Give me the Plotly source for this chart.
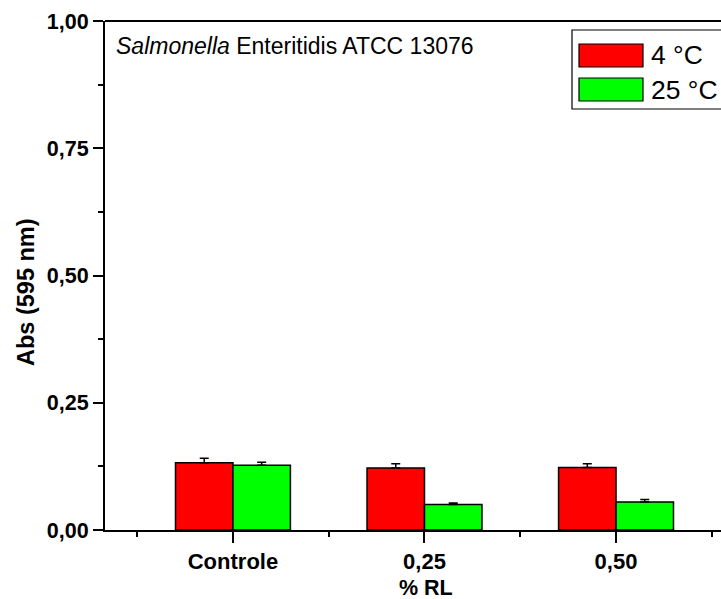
import plotly.graph_objects as go

categories = ["Controle", "0,25", "0,50"]
series_names = ["4 °C", "25 °C"]
vals_4c = [0.132, 0.122, 0.123]
err_4c = [0.009, 0.008, 0.007]
vals_25c = [0.127, 0.050, 0.055]
err_25c = [0.006, 0.003, 0.005]
colors = ["#ff0000", "#00ff00"]
yticks = [0.0, 0.25, 0.5, 0.75, 1.0]

xpos = list(range(len(categories)))
fig = go.Figure()
for name, vals, errs, col in [(series_names[0], vals_4c, err_4c, colors[0]),
                              (series_names[1], vals_25c, err_25c, colors[1])]:
    fig.add_trace(go.Bar(
        x=xpos, y=vals, name=name,
        marker=dict(color=col, line=dict(color="black", width=1.5)),
        error_y=dict(type="data", array=errs, arrayminus=[0]*len(errs), symmetric=False,
                     color="black", thickness=1.5, width=4.5),
        showlegend=False,
    ))

FONT = "Liberation Sans, Arial, sans-serif"
fig.update_layout(
    width=721, height=599,
    margin=dict(l=105, r=0, t=21, b=69),
    paper_bgcolor="white", plot_bgcolor="white",
    barmode="group", bargap=0.4, bargroupgap=0,
    separators=",.",
    font=dict(family=FONT, color="black"),
    xaxis=dict(
        range=[-0.668, 2.548], tickvals=xpos, ticktext=categories,
        ticks="outside", ticklen=11, tickwidth=2, tickcolor="black",
        minor=dict(tickvals=[-0.5, 0.5, 1.5, 2.5], ticks="outside", ticklen=5, tickwidth=2, tickcolor="black"),
        showline=True, linecolor="black", linewidth=2, showgrid=False, zeroline=False,
        tickfont=dict(size=22, family=FONT, weight="bold"),
    ),
    yaxis=dict(
        range=[0, 1.0], tickvals=yticks, tickformat=".2f",
        ticks="outside", ticklen=10, tickwidth=2, tickcolor="black",
        minor=dict(dtick=0.125, tick0=0, ticks="outside", ticklen=5, tickwidth=2, tickcolor="black"),
        showline=True, linecolor="black", linewidth=2, showgrid=False, zeroline=False,
        tickfont=dict(size=21.5, family=FONT, weight="bold"),
    ),
)

# top frame line
fig.add_shape(type="line", xref="paper", yref="paper", x0=0, x1=1.02, y0=1, y1=1,
              line=dict(color="black", width=2))

def px(x):
    return (x - 105) / 616
def py(y):
    return 1 - (y - 21) / 509

# axis titles
fig.add_annotation(xref="paper", yref="paper", x=px(426), y=py(588),
                   xanchor="center", yanchor="middle", showarrow=False,
                   text="<b>% RL</b>", font=dict(size=21.5, family=FONT, color="black"))
fig.add_annotation(xref="paper", yref="paper", x=px(26), y=py(292),
                   xanchor="center", yanchor="middle", showarrow=False, textangle=-90,
                   text="<b>Abs (595 nm)</b>", font=dict(size=23.5, family=FONT, color="black"))

# title annotation
fig.add_annotation(xref="paper", yref="paper", x=px(114), y=py(46),
                   xanchor="left", yanchor="middle", showarrow=False,
                   text="<i>Salmonella</i> Enteritidis ATCC 13076",
                   font=dict(size=23, family=FONT, color="black"))

# manual legend
fig.add_shape(type="rect", xref="paper", yref="paper", x0=px(572), x1=px(740), y0=py(30), y1=py(109),
              line=dict(color="black", width=1.2), fillcolor="white")
for i, (name, col) in enumerate(zip(series_names, colors)):
    ytop = 44 + i * 34
    fig.add_shape(type="rect", xref="paper", yref="paper", x0=px(579), x1=px(643),
                  y0=py(ytop), y1=py(ytop + 23), line=dict(color="black", width=1.2), fillcolor=col)
    fig.add_annotation(xref="paper", yref="paper", x=px(649), y=py(ytop + 11.5),
                       xanchor="left", yanchor="middle", showarrow=False, text=name,
                       font=dict(size=26.5, family=FONT, color="black"))

fig.write_html("out.html")
